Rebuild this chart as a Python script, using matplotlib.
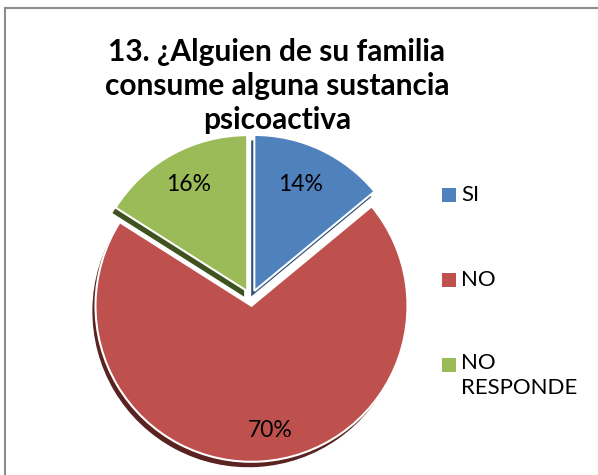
import matplotlib.pyplot as plt
from matplotlib.patches import Rectangle
from matplotlib.lines import Line2D

categories = ['SI', 'NO', 'NO\nRESPONDE']
values = [14, 70, 16]
pct_labels = ['14%', '70%', '16%']
colors = ['#4F81BD', '#BE504D', '#9BBB59']
dark_colors = ['#2E4F78', '#5A2220', '#3F5220']

plt.rcParams['font.family'] = ['Lato', 'DejaVu Sans']

fig = plt.figure(figsize=(5.98, 4.75), dpi=100)

# pie axes: centre at (250, 297) px, radius 155 px
W, H = 598, 475
cx, cy, R = 251, 298, 156
half = 195
ax = fig.add_axes([(cx - half) / W, (H - cy - half) / H, 2 * half / W, 2 * half / H])
lim = half / R

explode = [0.05, 0.05, 0.05]

# darker copy underneath for the 3d depth edge
ax.pie(values, colors=dark_colors, startangle=90, counterclock=False,
       explode=explode, center=(-0.02, -0.035), radius=1.0,
       wedgeprops=dict(linewidth=0), frame=True)
wedges, texts = ax.pie(values, colors=colors, startangle=90, counterclock=False,
                       explode=explode, radius=1.0,
                       wedgeprops=dict(edgecolor='white', linewidth=1.5),
                       frame=True)
ax.set_xlim(-lim, lim)
ax.set_ylim(-lim, lim)
ax.set_aspect('equal')
ax.axis('off')

label_pos = [(0.32, 0.73), (0.12, -0.85), (-0.40, 0.73)]
for (x, y), lab in zip(label_pos, pct_labels):
    ax.text(x, y, lab, ha='center', va='center', fontsize=16.5, color='black')

# title
fig.text(277 / W, 1 - 86 / H,
         '13. ¿Alguien de su familia\nconsume alguna sustancia\npsicoactiva',
         ha='center', va='center', fontsize=21.5, fontweight='bold',
         linespacing=1.27)

# legend
leg_y = [195, 280, 365]
for i, (lab, col) in enumerate(zip(categories, colors)):
    y = leg_y[i]
    fig.patches.append(Rectangle((442 / W, 1 - (y + 7) / H), 14 / W, 14 / H,
                                 transform=fig.transFigure, facecolor=col,
                                 edgecolor='none'))
    fig.text(461 / W, 1 - y / H, lab, ha='left', va='top' if '\n' in lab else 'center',
             fontsize=16, linespacing=1.3)
# fix multiline label position
fig.texts[-1].set_y(1 - (365 - 12) / H)

# border (top and left only, image is cropped)
fig.lines.append(Line2D([5 / W, 5 / W], [0, 1 - 8 / H], transform=fig.transFigure,
                        color='#8c8c8c', linewidth=1.5))
fig.lines.append(Line2D([5 / W, 1], [1 - 8 / H, 1 - 8 / H], transform=fig.transFigure,
                        color='#8c8c8c', linewidth=1.5))

fig.savefig('out.png', dpi=100)
